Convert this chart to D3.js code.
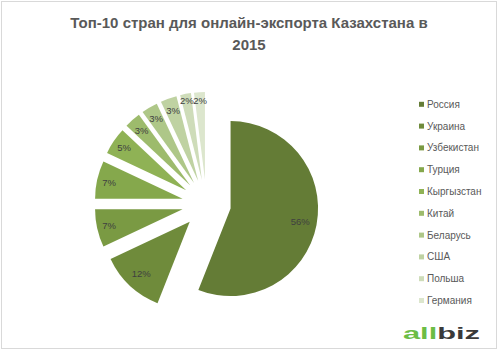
<!DOCTYPE html>
<html>
<head>
<meta charset="utf-8">
<script src="https://cdn.jsdelivr.net/npm/d3@7"></script>
<style>
  body { margin: 0; background: #fff; }
  text { font-family: "Liberation Sans", Arial, sans-serif; }
</style>
</head>
<body>
<div id="chart"></div>
<script>
// data
var countries = ["Россия", "Украина", "Узбекистан", "Турция", "Кыргызстан", "Китай", "Беларусь", "США", "Польша", "Германия"];
var shares = [56, 12, 7, 7, 5, 3, 3, 3, 2, 2];
var colors = ["#647c36", "#6f8b3b", "#7a9a43", "#85a84c", "#8fb255", "#9dbb6c", "#aec788", "#bfd2a2", "#cedcb9", "#dce6cd"];
// label distance from slice tip, as a share of the radius
var label_pos = [0.81, 0.81, 0.86, 0.86, 0.86, 0.84, 0.85, 0.85, 0.92, 0.9];

var width = 499, height = 351;
var pie_cx = 206.5, pie_cy = 204, pie_r = 87.5, explode = 24.5;

var svg = d3.select("#chart")
    .append("svg")
    .attr("width", width)
    .attr("height", height);

svg.append("rect")
    .attr("x", 1.5).attr("y", 1.5)
    .attr("width", width - 4).attr("height", height - 4)
    .attr("fill", "#fff")
    .style("stroke", "#d9d9d9")
    .style("stroke-width", "1px");

// title
svg.append("text")
    .attr("x", 249).attr("y", 28)
    .attr("font-size", "15px")
    .attr("font-weight", "bold")
    .style("text-anchor", "middle")
    .style("fill", "#595959")
    .text("Топ-10 стран для онлайн-экспорта Казахстана в");
svg.append("text")
    .attr("x", 249).attr("y", 50)
    .attr("font-size", "15px")
    .attr("font-weight", "bold")
    .style("text-anchor", "middle")
    .style("fill", "#595959")
    .text("2015");

var pie = d3.pie().sort(null).value(function (d) { return d; });
var arcs = pie(shares);
var arc = d3.arc().innerRadius(0).outerRadius(pie_r);

function mid(d) { return (d.startAngle + d.endAngle) / 2; }

var slices = svg.append("g")
    .attr("transform", "translate(" + pie_cx + "," + pie_cy + ")")
    .selectAll("g")
    .data(arcs)
    .enter().append("g")
    .attr("transform", function (d) {
        var a = mid(d);
        return "translate(" + (explode * Math.sin(a)) + "," + (-explode * Math.cos(a)) + ")";
    });

slices.append("path")
    .attr("d", arc)
    .attr("fill", function (d, i) { return colors[i]; });

slices.append("text")
    .attr("x", function (d, i) { return Math.sin(mid(d)) * pie_r * label_pos[i]; })
    .attr("y", function (d, i) { return -Math.cos(mid(d)) * pie_r * label_pos[i]; })
    .attr("dy", "0.35em")
    .attr("font-size", "9.5px")
    .style("text-anchor", "middle")
    .style("fill", "#404040")
    .text(function (d) { return d.data + "%"; });

// legend
var legend = svg.append("g")
    .selectAll("g")
    .data(countries)
    .enter().append("g")
    .attr("transform", function (d, i) { return "translate(419," + (104.3 + i * 21.8) + ")"; });

legend.append("rect")
    .attr("x", 0).attr("y", -2.5)
    .attr("width", 5).attr("height", 5)
    .attr("fill", function (d, i) { return colors[i]; });

legend.append("text")
    .attr("x", 8)
    .attr("dy", "0.35em")
    .attr("font-size", "10px")
    .style("fill", "#595959")
    .text(function (d) { return d; });

// logo
var logo = svg.append("text")
    .attr("x", 403).attr("y", 339)
    .attr("font-size", "17px")
    .attr("font-weight", "bold")
    .attr("textLength", 77)
    .attr("lengthAdjust", "spacingAndGlyphs");
logo.append("tspan").style("fill", "#6cbd45").text("all");
logo.append("tspan").style("fill", "#3a3a3a").text("biz");
</script>
</body>
</html>
